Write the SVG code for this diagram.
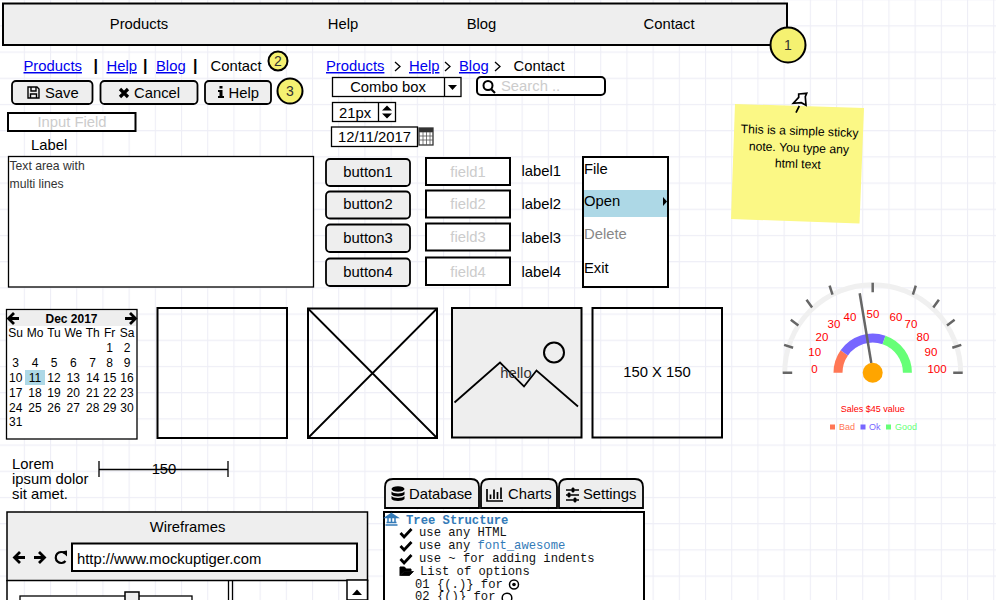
<svg xmlns="http://www.w3.org/2000/svg" width="996" height="600" viewBox="0 0 996 600">
<style>
text{font-family:"Liberation Sans",Arial,sans-serif;font-size:14.8px;fill:#000}
.c{text-anchor:middle}
.a{fill:#00e;text-decoration:underline}
.g{fill:#ccc}
.sep{font-weight:bold;font-size:16px}
.box{fill:#fff;stroke:#000;stroke-width:2}
.thin{fill:#fff;stroke:#000;stroke-width:1.3}
.btn{fill:#eee;stroke:#000;stroke-width:1.8}
.wf{fill:none;stroke:#000;stroke-width:2}
.bub{fill:#f5f171;stroke:#000;stroke-width:2}
.cal text{font-size:12px;text-anchor:middle}
.m text{font-family:"Liberation Mono","Courier New",monospace;font-size:12.2px;fill:#111}
.r{font-size:11.5px;fill:#f00;text-anchor:middle}
.tk{stroke:#666;stroke-width:2.5}
.leg{font-size:9px}
.note{font-size:12.2px}
</style>
<defs>
<pattern id="grid" patternUnits="userSpaceOnUse" x="-2.4" y="-0.9" width="26.2" height="26.2">
<path d="M0.5 0V26.2M0 0.5H26.2" stroke="#eeeef6" stroke-width="1.2" fill="none"/>
</pattern>
<g id="check"><path d="M0 5L3.6 9L11 1" fill="none" stroke="#000" stroke-width="2.8"/></g>
<g id="larrow"><path d="M7 0L1.500 5.500L7 11M2 5.500H12" fill="none" stroke="#000" stroke-width="2.800"/></g>
<g id="rarrow"><path d="M5 0L10.500 5.500L5 11M10 5.500H0" fill="none" stroke="#000" stroke-width="2.800"/></g>
</defs>
<rect width="996" height="600" fill="#fff"/>
<rect id="background-grid" width="996" height="600" fill="url(#grid)"/>

<g id="navbar">
<rect x="3" y="3.500" width="784" height="41.500" class="btn" style="stroke-width:2"/>
<text x="139" y="29" class="c">Products</text><text x="343" y="29" class="c">Help</text><text x="481.500" y="29" class="c">Blog</text><text x="669" y="29" class="c">Contact</text>
</g>
<g id="bubble1"><circle cx="788" cy="45" r="17.500" class="bub"/><text x="788" y="50" class="c" style="font-size:14px;fill:#333">1</text></g>
<g id="linkbar">
<text x="23.500" y="71" class="a">Products</text><text x="93.500" y="71" class="sep">|</text><text x="106.500" y="71" class="a">Help</text><text x="143" y="71" class="sep">|</text><text x="156" y="71" class="a">Blog</text><text x="193" y="71" class="sep">|</text><text x="210.500" y="71">Contact</text>
</g>
<g id="bubble2"><circle cx="278" cy="61" r="9.500" class="bub"/><text x="278" y="66" class="c" style="font-size:14px;fill:#333">2</text></g>
<g id="btn-save"><rect x="12" y="81" width="80.500" height="23" rx="4" class="btn"/>
<path d="M28 87H37L39 89V98H28ZM31 87V91H36V87M30.500 98V94H36.500V98" fill="none" stroke="#000" stroke-width="1.400"/>
<text x="45" y="98">Save</text></g>
<g id="btn-cancel"><rect x="100.500" y="81" width="97" height="23" rx="4" class="btn"/>
<path d="M120 89L128 97M128 89L120 97" stroke="#000" stroke-width="3.200"/>
<text x="134" y="98">Cancel</text></g>
<g id="btn-help"><rect x="205" y="81" width="66" height="23" rx="4" class="btn"/>
<path d="M219.500 86h3v2.500h-3zM218 90h4.500v6h1.500v2h-6v-2h1.500v-4h-1.500z" fill="#000"/>
<text x="228.500" y="98">Help</text></g>
<g id="bubble3"><circle cx="290" cy="91" r="12.500" class="bub"/><text x="290" y="96" class="c" style="font-size:14px;fill:#333">3</text></g>
<g id="input-field"><rect x="8" y="113" width="127.500" height="18" class="box"/><text x="72" y="127" class="c g">Input Field</text></g>
<g id="label"><text x="31" y="150">Label</text></g>
<g id="textarea"><rect x="8.500" y="156.500" width="305" height="130.500" class="thin"/>
<text x="9.500" y="170" style="font-size:12.200px;fill:#333">Text area with</text><text x="9.500" y="188" style="font-size:12.200px;fill:#333">multi lines</text></g>

<g id="breadcrumb">
<text x="326" y="71" class="a">Products</text><path d="M395 62L400 66.500L395 71M445 62L450 66.500L445 71M495 62L500 66.500L495 71" fill="none" stroke="#000" stroke-width="1.300"/>
<text x="409" y="71" class="a">Help</text><text x="459" y="71" class="a">Blog</text><text x="513.500" y="71">Contact</text>
</g>
<g id="combo"><rect x="332.500" y="77.500" width="128.500" height="19" class="thin"/><path d="M444.500 77.500V96.500" stroke="#000" stroke-width="1.300"/><path d="M448 85H457L452.500 90Z" fill="#000"/><text x="388" y="92" class="c">Combo box</text></g>
<g id="search"><rect x="477" y="77" width="128" height="18" rx="4" class="box"/><circle cx="488" cy="85.500" r="4.500" fill="none" stroke="#000" stroke-width="2"/><path d="M491 89L495 93" stroke="#000" stroke-width="2.200"/><text x="501" y="91" class="g">Search ..</text></g>
<g id="spinner"><rect x="332.500" y="102.500" width="63" height="19" class="thin"/><path d="M378.500 102.500V121.500" stroke="#000" stroke-width="1.300"/><path d="M387 105.500L392 110.500H382ZM387 118.500L392 113.500H382Z" fill="#000"/><text x="339" y="118">21px</text></g>
<g id="datepicker"><rect x="331.500" y="127" width="86" height="19.500" class="thin"/><rect x="419" y="128" width="14" height="17" fill="none" stroke="#333" stroke-width="1.300"/><path d="M419 132H433M419 136H433M419 140H433M423 132V145M426.500 132V145M430 132V145" stroke="#555" stroke-width="0.800"/><path d="M419 128h14v4h-14z" fill="#333"/><text x="338" y="142">12/11/2017</text></g>

<g id="button1"><rect x="326" y="159" width="84" height="27" rx="4" class="btn"/><text x="368" y="177" class="c">button1</text></g>
<g id="button2"><rect x="326" y="191.500" width="84" height="27" rx="4" class="btn"/><text x="368" y="209" class="c">button2</text></g>
<g id="button3"><rect x="326" y="224.500" width="84" height="27.500" rx="4" class="btn"/><text x="368" y="243" class="c">button3</text></g>
<g id="button4"><rect x="326" y="258.500" width="84" height="27.500" rx="4" class="btn"/><text x="368" y="277" class="c">button4</text></g>
<g id="field1"><rect x="426" y="158" width="84" height="27" class="box"/><text x="468" y="177" class="c g">field1</text></g>
<g id="field2"><rect x="426" y="190.500" width="84" height="27" class="box"/><text x="468" y="209" class="c g">field2</text></g>
<g id="field3"><rect x="426" y="223.500" width="84" height="27" class="box"/><text x="468" y="242" class="c g">field3</text></g>
<g id="field4"><rect x="426" y="257.500" width="84" height="27.500" class="box"/><text x="468" y="277" class="c g">field4</text></g>
<g id="label1"><text x="521.500" y="176">label1</text></g>
<g id="label2"><text x="521.500" y="209">label2</text></g>
<g id="label3"><text x="521.500" y="243">label3</text></g>
<g id="label4"><text x="521.500" y="277">label4</text></g>
<g id="menu"><rect x="583" y="157" width="85" height="130" class="box"/><rect x="584" y="190" width="83" height="27" fill="#add8e6"/><path d="M663 197L667 201.500L663 206Z" fill="#000"/>
<text x="584" y="174">File</text><text x="584" y="206">Open</text><text x="584" y="239" style="fill:#888">Delete</text><text x="584" y="273">Exit</text></g>

<g id="calendar" class="cal"><rect x="6.500" y="309.500" width="130.500" height="129.500" class="thin"/><rect x="8" y="311" width="128" height="15" fill="#eee"/><rect x="25" y="370" width="20" height="15" fill="#add8e6"/>
<use href="#larrow" x="7" y="313"/><use href="#rarrow" x="125" y="313"/>
<text x="71.500" y="323" style="font-weight:bold">Dec 2017</text>
<text x="15.700" y="337">Su</text><text x="35" y="337">Mo</text><text x="54" y="337">Tu</text><text x="73.300" y="337">We</text><text x="92.700" y="337">Th</text><text x="109.700" y="337">Fr</text><text x="127" y="337">Sa</text>
<text x="109.700" y="352">1</text><text x="127" y="352">2</text>
<text x="15.700" y="367">3</text><text x="35" y="367">4</text><text x="54" y="367">5</text><text x="73.300" y="367">6</text><text x="92.700" y="367">7</text><text x="109.700" y="367">8</text><text x="127" y="367">9</text>
<text x="15.700" y="382">10</text><text x="35" y="382">11</text><text x="54" y="382">12</text><text x="73.300" y="382">13</text><text x="92.700" y="382">14</text><text x="109.700" y="382">15</text><text x="127" y="382">16</text>
<text x="15.700" y="396.500">17</text><text x="35" y="396.500">18</text><text x="54" y="396.500">19</text><text x="73.300" y="396.500">20</text><text x="92.700" y="396.500">21</text><text x="109.700" y="396.500">22</text><text x="127" y="396.500">23</text>
<text x="15.700" y="411.500">24</text><text x="35" y="411.500">25</text><text x="54" y="411.500">26</text><text x="73.300" y="411.500">27</text><text x="92.700" y="411.500">28</text><text x="109.700" y="411.500">29</text><text x="127" y="411.500">30</text>
<text x="15.700" y="426">31</text></g>
<g id="blank-box"><rect x="157.500" y="308" width="129.500" height="130" class="wf"/></g>
<g id="cross-box"><rect x="308" y="308.500" width="129" height="129.500" class="wf"/><path d="M308 308.500L437 438M437 308.500L308 438" class="wf" style="stroke-width:1.800"/></g>
<g id="image-box"><rect x="452" y="308" width="129.500" height="129.500" fill="#eee" stroke="#000" stroke-width="2"/><circle cx="554" cy="352.500" r="10" class="wf"/><path d="M454.500 402.500L500 362.500L524 386.500L536.500 370.500L578 406.500" class="wf" style="stroke-width:1.800"/><text x="516" y="378" class="c" style="fill:#333">hello</text></g>
<g id="size-box"><rect x="592.500" y="308" width="129.500" height="129.500" class="wf"/><text x="657" y="377" class="c">150 X 150</text></g>

<g id="lorem"><text x="12" y="469">Lorem</text><text x="12" y="484">ipsum dolor</text><text x="12" y="499">sit amet.</text></g>
<g id="dimension"><path d="M99 469.500H228M99 461V477M228 461V477" fill="none" stroke="#000" stroke-width="1.300"/><text x="164" y="474" class="c">150</text></g>

<g id="browser"><rect x="7" y="512" width="360.500" height="68.500" class="btn" style="stroke-width:1.500"/><path d="M7 580V600M367.500 580V600" stroke="#000" stroke-width="1.500" fill="none"/>
<text x="187.500" y="532" class="c">Wireframes</text>
<use href="#larrow" x="13" y="552"/><use href="#rarrow" x="34" y="552"/>
<path d="M65 553.500A5.500 5.500 0 1 0 65.500 561" fill="none" stroke="#000" stroke-width="2.200"/><path d="M61.500 551.500L67 550.500V556.500Z" fill="#000"/>
<rect x="72" y="543.500" width="285" height="27.500" class="box"/><text x="77" y="564">http://www.mockuptiger.com</text>
<path d="M228.500 580V600M232.500 580V600" stroke="#000" stroke-width="1.300"/>
<rect x="347" y="580" width="20.500" height="20" fill="#fff" stroke="#000" stroke-width="1.500"/><path d="M352 595L357 589.500L362 595Z" fill="#000"/>
<rect x="20" y="596" width="172" height="8" fill="#fff" stroke="#000" stroke-width="1.300"/><rect x="125" y="592" width="14" height="12" fill="#eee" stroke="#000" stroke-width="1.500"/></g>

<g id="tab-database"><path d="M385 508V487Q385 479 393 479H471Q479 479 479 487V508Z" class="btn"/><g fill="#000"><ellipse cx="398" cy="489" rx="6.500" ry="2.800"/><path d="M391.500 491.500C393 494 403 494 404.500 491.500V494.500C403 497 393 497 391.500 494.500ZM391.500 496C393 498.500 403 498.500 404.500 496V499C403 501.500 393 501.500 391.500 499Z"/></g><text x="409" y="499">Database</text></g>
<g id="tab-charts"><path d="M481 508V487Q481 479 489 479H549Q557 479 557 487V508Z" class="btn"/><path d="M487 489V501H503M490.500 494.500V499M494 489.500V499M497.500 492V499M501 487.500V499" fill="none" stroke="#000" stroke-width="1.700"/><text x="508" y="499">Charts</text></g>
<g id="tab-settings"><path d="M559 508V487Q559 479 567 479H635Q643 479 643 487V508Z" class="btn"/><path d="M566 490H579M566 495H579M566 500H579" stroke="#000" stroke-width="1.300"/><path d="M572 488h2v4h-2zM568 493h2v4h-2zM574 498h2v4h-2z" fill="#000" stroke="#000" stroke-width="0.800"/><text x="583" y="499">Settings</text></g>
<g id="tree-panel" class="m"><rect x="384" y="512" width="260" height="92" class="box"/>
<path d="M385.500 525H397.500M386.500 522.500H396.500M391.500 513.500L397.500 517.500H385.500ZM388 518V522.500M391.500 518V522.500M395 518V522.500" stroke="#337ab7" stroke-width="1.500" fill="#337ab7"/>
<text x="406" y="523.500" style="fill:#337ab7;font-weight:bold">Tree Structure</text>
<use href="#check" x="400.500" y="528"/><text x="419" y="536">use any HTML</text>
<use href="#check" x="400.500" y="541"/><text x="419" y="549">use any <tspan style="fill:#337ab7">font_awesome</tspan></text>
<use href="#check" x="400.500" y="554"/><text x="419" y="562">use ~ for adding indents</text>
<path d="M400 575.500V567H404.500L406 569H411V571H404L400 575.500Z" fill="#000" stroke="#000"/><path d="M400.500 575.500L404 571.500H413.500L409.500 575.500Z" fill="#000" stroke="#000" stroke-width="0.800"/><text x="420" y="575">List of options</text>
<text x="415" y="588">01 {(.)} for</text><circle cx="514" cy="584.500" r="4.500" fill="none" stroke="#000" stroke-width="1.500"/><circle cx="514" cy="584.500" r="1.800" fill="#000"/>
<text x="415" y="600">02 {()} for</text><circle cx="507" cy="598" r="4.800" fill="none" stroke="#000" stroke-width="1.500"/></g>

<g id="sticky-note"><path d="M735 104L864 108L859.500 223.500L731 219Z" fill="#fbf885"/>
<g transform="rotate(2 798 160)"><text x="798.500" y="135" class="c note">This is a simple sticky</text><text x="798.500" y="152" class="c note">note. You type any</text><text x="798" y="168" class="c note">html text</text></g>
<path d="M798.700 94L806.700 93.300L805.300 96.700L806 105.300L801.300 102.700L793.300 103.300L798.700 97.300ZM799.300 106L796 112.700" fill="none" stroke="#000" stroke-width="1.700"/></g>

<g id="gauge">
<path d="M784.700 372.700A88 88 0 0 1 960.700 372.700" fill="none" stroke="#f0f0f0" stroke-width="5"/>
<path d="M782.700 372.700H792.200M784.100 344.900L793.100 347.800M790.800 319.800L798.400 325.400M806.500 299.700L812.100 307.400M829.600 285.600L832.500 294.600M872.700 282.700V292.200M915.800 285.600L912.900 294.600M938.900 299.700L933.300 307.400M954.600 319.800L947 325.400M961.300 344.900L952.300 347.800M962.700 372.700H953.200" class="tk" fill="none"/>
<path d="M838 372.700A34.700 34.700 0 0 1 844.300 352.800" fill="none" stroke="#ff7755" stroke-width="9"/>
<path d="M844.300 352.800A34.700 34.700 0 0 1 884 339.900" fill="none" stroke="#7766ff" stroke-width="9"/>
<path d="M884 339.900A34.700 34.700 0 0 1 907.400 372.700" fill="none" stroke="#66ff77" stroke-width="9"/>
<path d="M871.300 363L859.700 293.300" stroke="#666" stroke-width="2.500"/>
<circle cx="872.700" cy="372.700" r="10" fill="#ffa500"/>
<text x="814.500" y="373" class="r">0</text><text x="814.700" y="355.500" class="r">10</text><text x="822" y="341" class="r">20</text><text x="834" y="328" class="r">30</text><text x="850" y="321" class="r">40</text><text x="873" y="318" class="r">50</text><text x="896" y="321" class="r">60</text><text x="911" y="328" class="r">70</text><text x="923" y="341" class="r">80</text><text x="931" y="355.500" class="r">90</text><text x="937" y="373" class="r">100</text>
<text x="872.700" y="412" class="c" style="font-size:9px;fill:#f00">Sales $45 value</text>
<rect x="830" y="424.500" width="5" height="5" fill="#ff7755"/><text x="839" y="430" class="leg" style="fill:#ff7755">Bad</text>
<rect x="860.500" y="424.500" width="5" height="5" fill="#7766ff"/><text x="869" y="430" class="leg" style="fill:#7766ff">Ok</text>
<rect x="886" y="424.500" width="5" height="5" fill="#66ff77"/><text x="895" y="430" class="leg" style="fill:#66ff77">Good</text>
</g>
<g id="connectors"></g>
</svg>
